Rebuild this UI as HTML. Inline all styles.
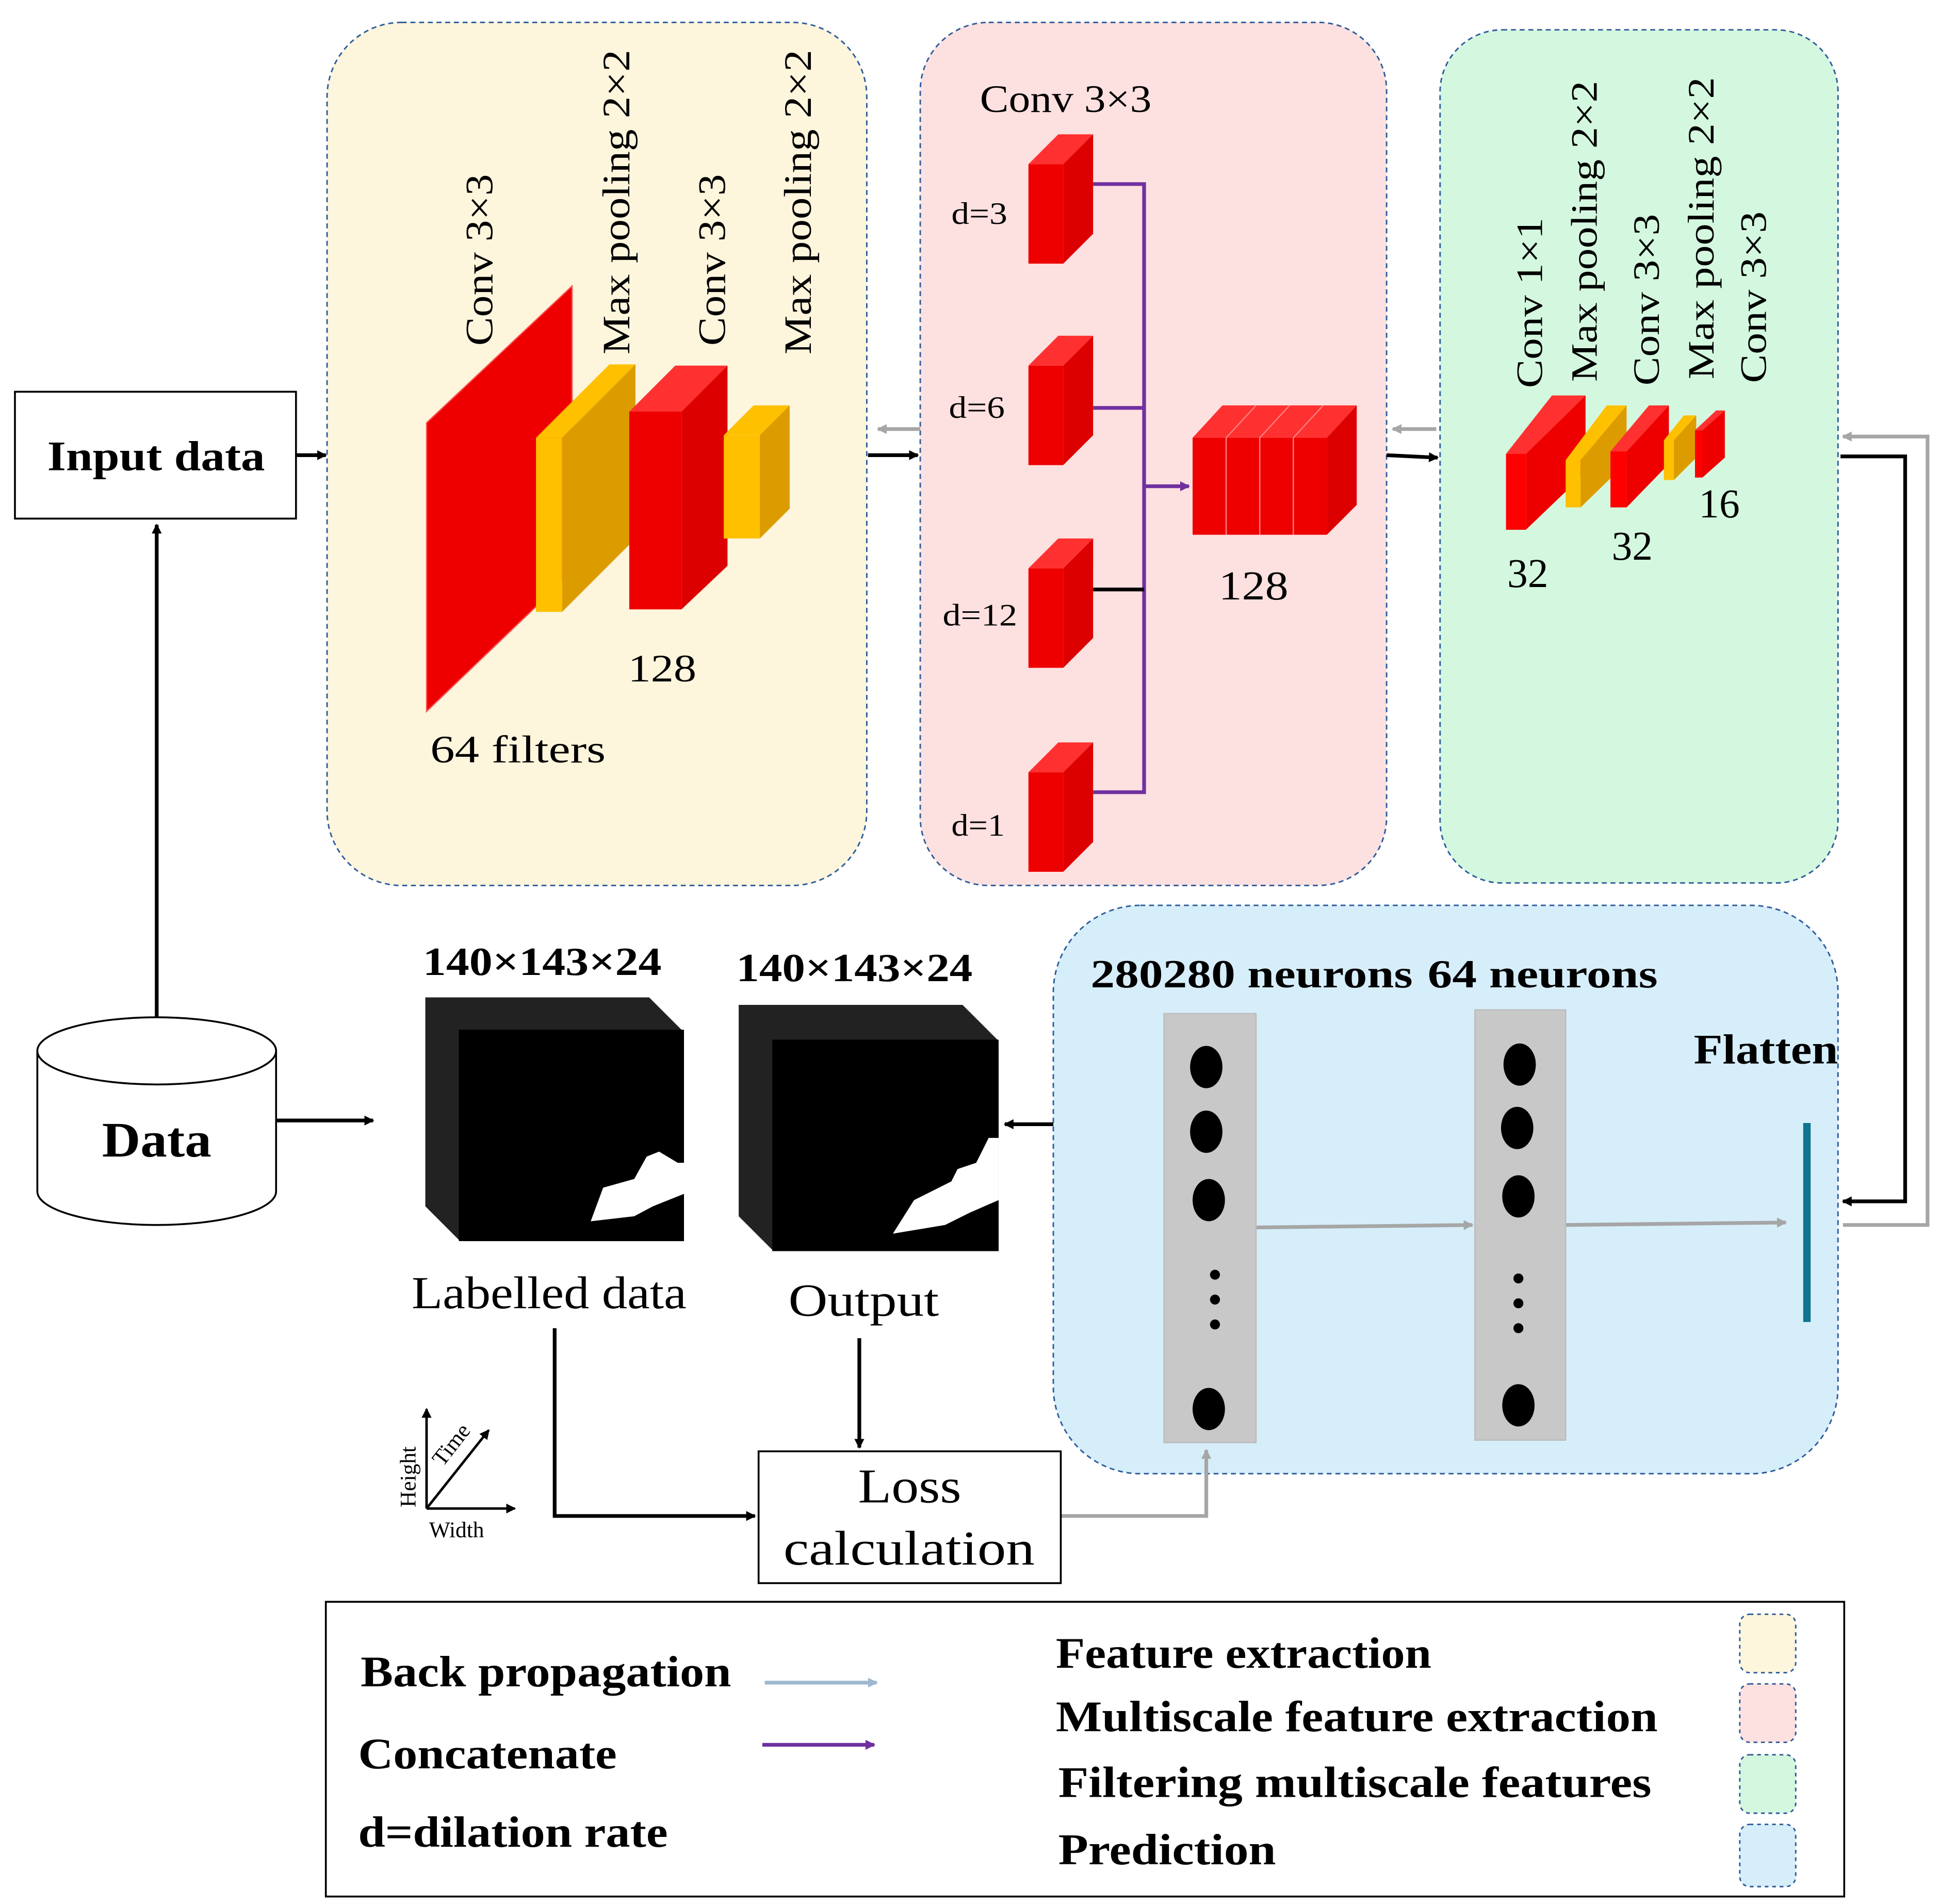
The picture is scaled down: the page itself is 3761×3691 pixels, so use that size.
<!DOCTYPE html>
<html><head><meta charset="utf-8"><style>html,body{margin:0;padding:0;background:#fff}svg{display:block}</style></head><body>
<svg width="3761" height="3691" viewBox="0 0 1560 1531" xmlns="http://www.w3.org/2000/svg" font-family="'Liberation Serif', serif">
<defs>
<marker id="ab" markerWidth="8" markerHeight="8" refX="7" refY="4" orient="auto" markerUnits="userSpaceOnUse"><path d="M0,0 L8,4 L0,8 z" fill="#000"/></marker>
<marker id="ag" markerWidth="8" markerHeight="8" refX="7" refY="4" orient="auto" markerUnits="userSpaceOnUse"><path d="M0,0 L8,4 L0,8 z" fill="#a6a6a6"/></marker>
<marker id="ap" markerWidth="8" markerHeight="8" refX="7" refY="4" orient="auto" markerUnits="userSpaceOnUse"><path d="M0,0 L8,4 L0,8 z" fill="#7030a0"/></marker>
<marker id="al" markerWidth="8" markerHeight="8" refX="7" refY="4" orient="auto" markerUnits="userSpaceOnUse"><path d="M0,0 L8,4 L0,8 z" fill="#9db8d0"/></marker>
</defs>
<g stroke="#2e5c9a" stroke-width="1.2" stroke-dasharray="4,3">
<rect x="263" y="18" width="434" height="694" rx="60" fill="#fdf5dc"/>
<rect x="740" y="18" width="375" height="694" rx="55" fill="#fde0e0"/>
<rect x="1158" y="24" width="320" height="686" rx="50" fill="#d4f8df"/>
<rect x="847" y="728" width="631" height="457" rx="70" fill="#d6eefa"/>
</g>
<rect x="12" y="315" width="226" height="102" fill="#fff" stroke="#000" stroke-width="1.5"/>
<text x="38" y="378" font-size="34" font-weight="bold" textLength="175" lengthAdjust="spacingAndGlyphs">Input data</text>
<path d="M30,845 L30,958 A96,27 0 0 0 222,958 L222,845" fill="#fff" stroke="#000" stroke-width="1.5"/>
<ellipse cx="126" cy="845" rx="96" ry="27" fill="#fff" stroke="#000" stroke-width="1.5"/>
<text x="82" y="930" font-size="40" font-weight="bold" textLength="88" lengthAdjust="spacingAndGlyphs">Data</text>
<g stroke="#000" stroke-width="3" fill="none">
<line x1="126" y1="818" x2="126" y2="422" marker-end="url(#ab)"/>
<line x1="222" y1="901" x2="300" y2="901" marker-end="url(#ab)"/>
<line x1="238" y1="366" x2="262" y2="366" marker-end="url(#ab)"/>
<line x1="698" y1="366" x2="738" y2="366" marker-end="url(#ab)"/>
<line x1="1115" y1="366" x2="1156" y2="368" marker-end="url(#ab)"/>
<polyline points="1480,367 1532,367 1532,966 1482,966" marker-end="url(#ab)"/>
<line x1="847" y1="904" x2="808" y2="904" marker-end="url(#ab)"/>
<polyline points="446,1068 446,1219 607,1219" marker-end="url(#ab)"/>
<line x1="691" y1="1076" x2="691" y2="1164" marker-end="url(#ab)"/>
</g>
<g stroke="#a6a6a6" stroke-width="3" fill="none">
<line x1="740" y1="345" x2="706" y2="345" marker-end="url(#ag)"/>
<line x1="1155" y1="345" x2="1120" y2="345" marker-end="url(#ag)"/>
<polyline points="1482,985 1550,985 1550,351 1482,351" marker-end="url(#ag)"/>
<polyline points="853,1219 970,1219 970,1166" marker-end="url(#ag)"/>
<line x1="1010" y1="987" x2="1184" y2="985" marker-end="url(#ag)"/>
<line x1="1259" y1="985" x2="1436" y2="983" marker-end="url(#ag)"/>
</g>
<polygon points="343,340 460,230 460,460 343,572" fill="#ee0000" stroke="#ff5050" stroke-width="1"/>
<polygon points="431,352 490,293 511,293 452,352" fill="#ffc000"/>
<rect x="431" y="352" width="21" height="140" fill="#ffc000"/>
<polygon points="452,352 511,293 511,433 452,492" fill="#dc9c00"/>
<polygon points="506,331 543,294 585,294 548,331" fill="#ff3030"/>
<rect x="506" y="331" width="42" height="159" fill="#ee0000"/>
<polygon points="548,331 585,294 585,455 548,490" fill="#dd0000"/>
<polygon points="582,350 606,326 635,326 611,350" fill="#ffc000"/>
<rect x="582" y="350" width="29" height="83" fill="#ffc000"/>
<polygon points="611,350 635,326 635,409 611,433" fill="#dc9c00"/>
<g font-size="31" lengthAdjust="spacingAndGlyphs">
<text transform="translate(396,278) rotate(-90)" textLength="138" lengthAdjust="spacingAndGlyphs">Conv 3×3</text>
<text transform="translate(506,285) rotate(-90)" textLength="245" lengthAdjust="spacingAndGlyphs">Max pooling 2×2</text>
<text transform="translate(583,278) rotate(-90)" textLength="138" lengthAdjust="spacingAndGlyphs">Conv 3×3</text>
<text transform="translate(652,285) rotate(-90)" textLength="245" lengthAdjust="spacingAndGlyphs">Max pooling 2×2</text>
<text x="505" y="548" textLength="55" lengthAdjust="spacingAndGlyphs">128</text>
<text x="346" y="613" textLength="141" lengthAdjust="spacingAndGlyphs">64 filters</text>
</g>
<text x="788" y="90" font-size="31" textLength="138" lengthAdjust="spacingAndGlyphs">Conv 3×3</text>
<g font-size="25">
<text x="765" y="180" textLength="45" lengthAdjust="spacingAndGlyphs">d=3</text>
<text x="763" y="336" textLength="45" lengthAdjust="spacingAndGlyphs">d=6</text>
<text x="758" y="503" textLength="60" lengthAdjust="spacingAndGlyphs">d=12</text>
<text x="765" y="672" textLength="43" lengthAdjust="spacingAndGlyphs">d=1</text>
</g>
<g>
<g id="cb"><polygon points="827,132 851,108 879,108 855,132" fill="#ff3030"/><rect x="827" y="132" width="28" height="80" fill="#ee0000"/><polygon points="855,132 879,108 879,188 855,212" fill="#dd0000"/></g>
<use href="#cb" y="162"/><use href="#cb" y="325"/><use href="#cb" y="489"/>
</g>
<g stroke="#7030a0" stroke-width="3" fill="none">
<polyline points="879,148 920,148 920,637 879,637"/>
<line x1="879" y1="328" x2="920" y2="328"/>
<line x1="920" y1="391" x2="956" y2="391" marker-end="url(#ap)"/>
</g>
<line x1="879" y1="474" x2="920" y2="474" stroke="#000" stroke-width="3"/>
<polygon points="959,352 983,326 1091,326 1067,352" fill="#ff3030"/>
<rect x="959" y="352" width="108" height="78" fill="#ee0000"/>
<polygon points="1067,352 1091,326 1091,406 1067,430" fill="#dd0000"/>
<g stroke="#ff8080" stroke-width="1"><line x1="986" y1="352" x2="986" y2="430"/><line x1="1013" y1="352" x2="1013" y2="430"/><line x1="1040" y1="352" x2="1040" y2="430"/>
<line x1="986" y1="352" x2="1010" y2="326"/><line x1="1013" y1="352" x2="1037" y2="326"/><line x1="1040" y1="352" x2="1064" y2="326"/></g>
<text x="980" y="482" font-size="33" textLength="56" lengthAdjust="spacingAndGlyphs">128</text>
<g font-size="30">
<text transform="translate(1240,312) rotate(-90)" textLength="137" lengthAdjust="spacingAndGlyphs">Conv 1×1</text>
<text transform="translate(1284,307) rotate(-90)" textLength="242" lengthAdjust="spacingAndGlyphs">Max pooling 2×2</text>
<text transform="translate(1334,310) rotate(-90)" textLength="138" lengthAdjust="spacingAndGlyphs">Conv 3×3</text>
<text transform="translate(1378,305) rotate(-90)" textLength="243" lengthAdjust="spacingAndGlyphs">Max pooling 2×2</text>
<text transform="translate(1420,308) rotate(-90)" textLength="138" lengthAdjust="spacingAndGlyphs">Conv 3×3</text>
<text x="1212" y="472" font-size="33">32</text>
<text x="1296" y="450" font-size="33">32</text>
<text x="1366" y="416" font-size="33">16</text>
</g>
<polygon points="1211,365 1248,318 1275,318 1227,365" fill="#ff3030"/>
<rect x="1211" y="365" width="16" height="61" fill="#ff0000"/>
<polygon points="1227,365 1275,318 1275,380 1227,426" fill="#ee0000"/>
<polygon points="1259,370 1292,326 1308,326 1271,370" fill="#ffc000"/>
<rect x="1259" y="370" width="12" height="38" fill="#ffc000"/>
<polygon points="1271,370 1308,326 1308,372 1271,408" fill="#dc9c00"/>
<polygon points="1295,363 1326,326 1342,326 1308,363" fill="#ff3030"/>
<rect x="1295" y="363" width="13" height="45" fill="#ff0000"/>
<polygon points="1308,363 1342,326 1342,373 1308,408" fill="#ee0000"/>
<polygon points="1338,354 1354,334 1364,334 1346,354" fill="#ffc000"/>
<rect x="1338" y="354" width="8" height="32" fill="#ffc000"/>
<polygon points="1346,354 1364,334 1364,368 1346,386" fill="#dc9c00"/>
<polygon points="1363,346 1380,330 1387,330 1369,346" fill="#ff3030"/>
<rect x="1363" y="346" width="6" height="38" fill="#ff0000"/>
<polygon points="1369,346 1387,330 1387,368 1369,384" fill="#ee0000"/>
<g font-size="32" font-weight="bold"><text x="340" y="784" textLength="192" lengthAdjust="spacingAndGlyphs">140×143×24</text><text x="592" y="789" textLength="190" lengthAdjust="spacingAndGlyphs">140×143×24</text></g>
<polygon points="342,802 522,802 550,830 550,998 370,998 342,970" fill="#222"/>
<rect x="369" y="828" width="181" height="170" fill="#000"/>
<path d="M475,982 L485,955 L510,948 L520,930 L530,926 L545,935 L550,935 L550,960 L525,970 L510,978 Z" fill="#fff"/>
<polygon points="594,808 774,808 803,837 803,1006 622,1006 594,978" fill="#222"/>
<rect x="621" y="836" width="182" height="170" fill="#000"/>
<path d="M718,992 L735,965 L765,950 L770,940 L785,935 L795,915 L803,915 L803,965 L780,975 L760,985 Z" fill="#fff"/>
<text x="331" y="1052" font-size="37" textLength="221" lengthAdjust="spacingAndGlyphs">Labelled data</text>
<text x="634" y="1058" font-size="37" textLength="121" lengthAdjust="spacingAndGlyphs">Output</text>
<rect x="610" y="1167" width="243" height="106" fill="#fff" stroke="#000" stroke-width="1.5"/>
<text x="690" y="1208" font-size="39" textLength="83" lengthAdjust="spacingAndGlyphs">Loss</text>
<text x="630" y="1258" font-size="39" textLength="202" lengthAdjust="spacingAndGlyphs">calculation</text>
<g stroke="#000" stroke-width="2" fill="none">
<line x1="343" y1="1213" x2="343" y2="1133" marker-end="url(#ab)"/>
<line x1="343" y1="1213" x2="414" y2="1213" marker-end="url(#ab)"/>
<line x1="343" y1="1213" x2="393" y2="1150" marker-end="url(#ab)"/>
</g>
<g font-size="18"><text transform="translate(334,1212) rotate(-90)">Height</text><text x="345" y="1236">Width</text><text transform="translate(356,1180) rotate(-52)">Time</text></g>
<text x="877" y="794" font-size="32" font-weight="bold" textLength="259" lengthAdjust="spacingAndGlyphs">280280 neurons</text>
<text x="1148" y="794" font-size="32" font-weight="bold" textLength="185" lengthAdjust="spacingAndGlyphs">64 neurons</text>
<text x="1362" y="855" font-size="34" font-weight="bold" textLength="116" lengthAdjust="spacingAndGlyphs">Flatten</text>
<rect x="936" y="815" width="74" height="345" fill="#c8c8c8" stroke="#bbb"/>
<rect x="1186" y="812" width="73" height="346" fill="#c8c8c8" stroke="#bbb"/>
<g fill="#000">
<ellipse cx="970" cy="858" rx="13" ry="17"/><ellipse cx="970" cy="910" rx="13" ry="17"/><ellipse cx="972" cy="965" rx="13" ry="17"/>
<circle cx="977" cy="1025" r="4"/><circle cx="977" cy="1045" r="4"/><circle cx="977" cy="1065" r="4"/>
<ellipse cx="972" cy="1133" rx="13" ry="17"/>
<ellipse cx="1222" cy="856" rx="13" ry="17"/><ellipse cx="1220" cy="907" rx="13" ry="17"/><ellipse cx="1221" cy="962" rx="13" ry="17"/>
<circle cx="1221" cy="1028" r="4"/><circle cx="1221" cy="1048" r="4"/><circle cx="1221" cy="1068" r="4"/>
<ellipse cx="1221" cy="1130" rx="13" ry="17"/>
</g>
<line x1="1453" y1="903" x2="1453" y2="1063" stroke="#0e7490" stroke-width="6"/>
<rect x="262" y="1288" width="1221" height="237" fill="#fff" stroke="#000" stroke-width="1.5"/>
<g font-size="35" font-weight="bold">
<text x="290" y="1356" textLength="298" lengthAdjust="spacingAndGlyphs">Back propagation</text>
<text x="288" y="1422" textLength="208" lengthAdjust="spacingAndGlyphs">Concatenate</text>
<text x="288" y="1485" textLength="249" lengthAdjust="spacingAndGlyphs">d=dilation rate</text>
<text x="849" y="1341" textLength="302" lengthAdjust="spacingAndGlyphs">Feature extraction</text>
<text x="849" y="1392" textLength="484" lengthAdjust="spacingAndGlyphs">Multiscale feature extraction</text>
<text x="851" y="1445" textLength="477" lengthAdjust="spacingAndGlyphs">Filtering multiscale features</text>
<text x="851" y="1499" textLength="175" lengthAdjust="spacingAndGlyphs">Prediction</text>
</g>
<line x1="615" y1="1353" x2="705" y2="1353" stroke="#9db8d0" stroke-width="3" marker-end="url(#al)"/>
<line x1="613" y1="1403" x2="703" y2="1403" stroke="#7030a0" stroke-width="3" marker-end="url(#ap)"/>
<g stroke="#2e5c9a" stroke-width="1.2" stroke-dasharray="3,3">
<rect x="1399" y="1298" width="45" height="47" rx="8" fill="#fdf5dc"/>
<rect x="1399" y="1354" width="45" height="47" rx="8" fill="#fde0e0"/>
<rect x="1399" y="1411" width="45" height="47" rx="8" fill="#d4f8df"/>
<rect x="1399" y="1467" width="45" height="50" rx="8" fill="#d6eefa"/>
</g>
</svg>
</body></html>
